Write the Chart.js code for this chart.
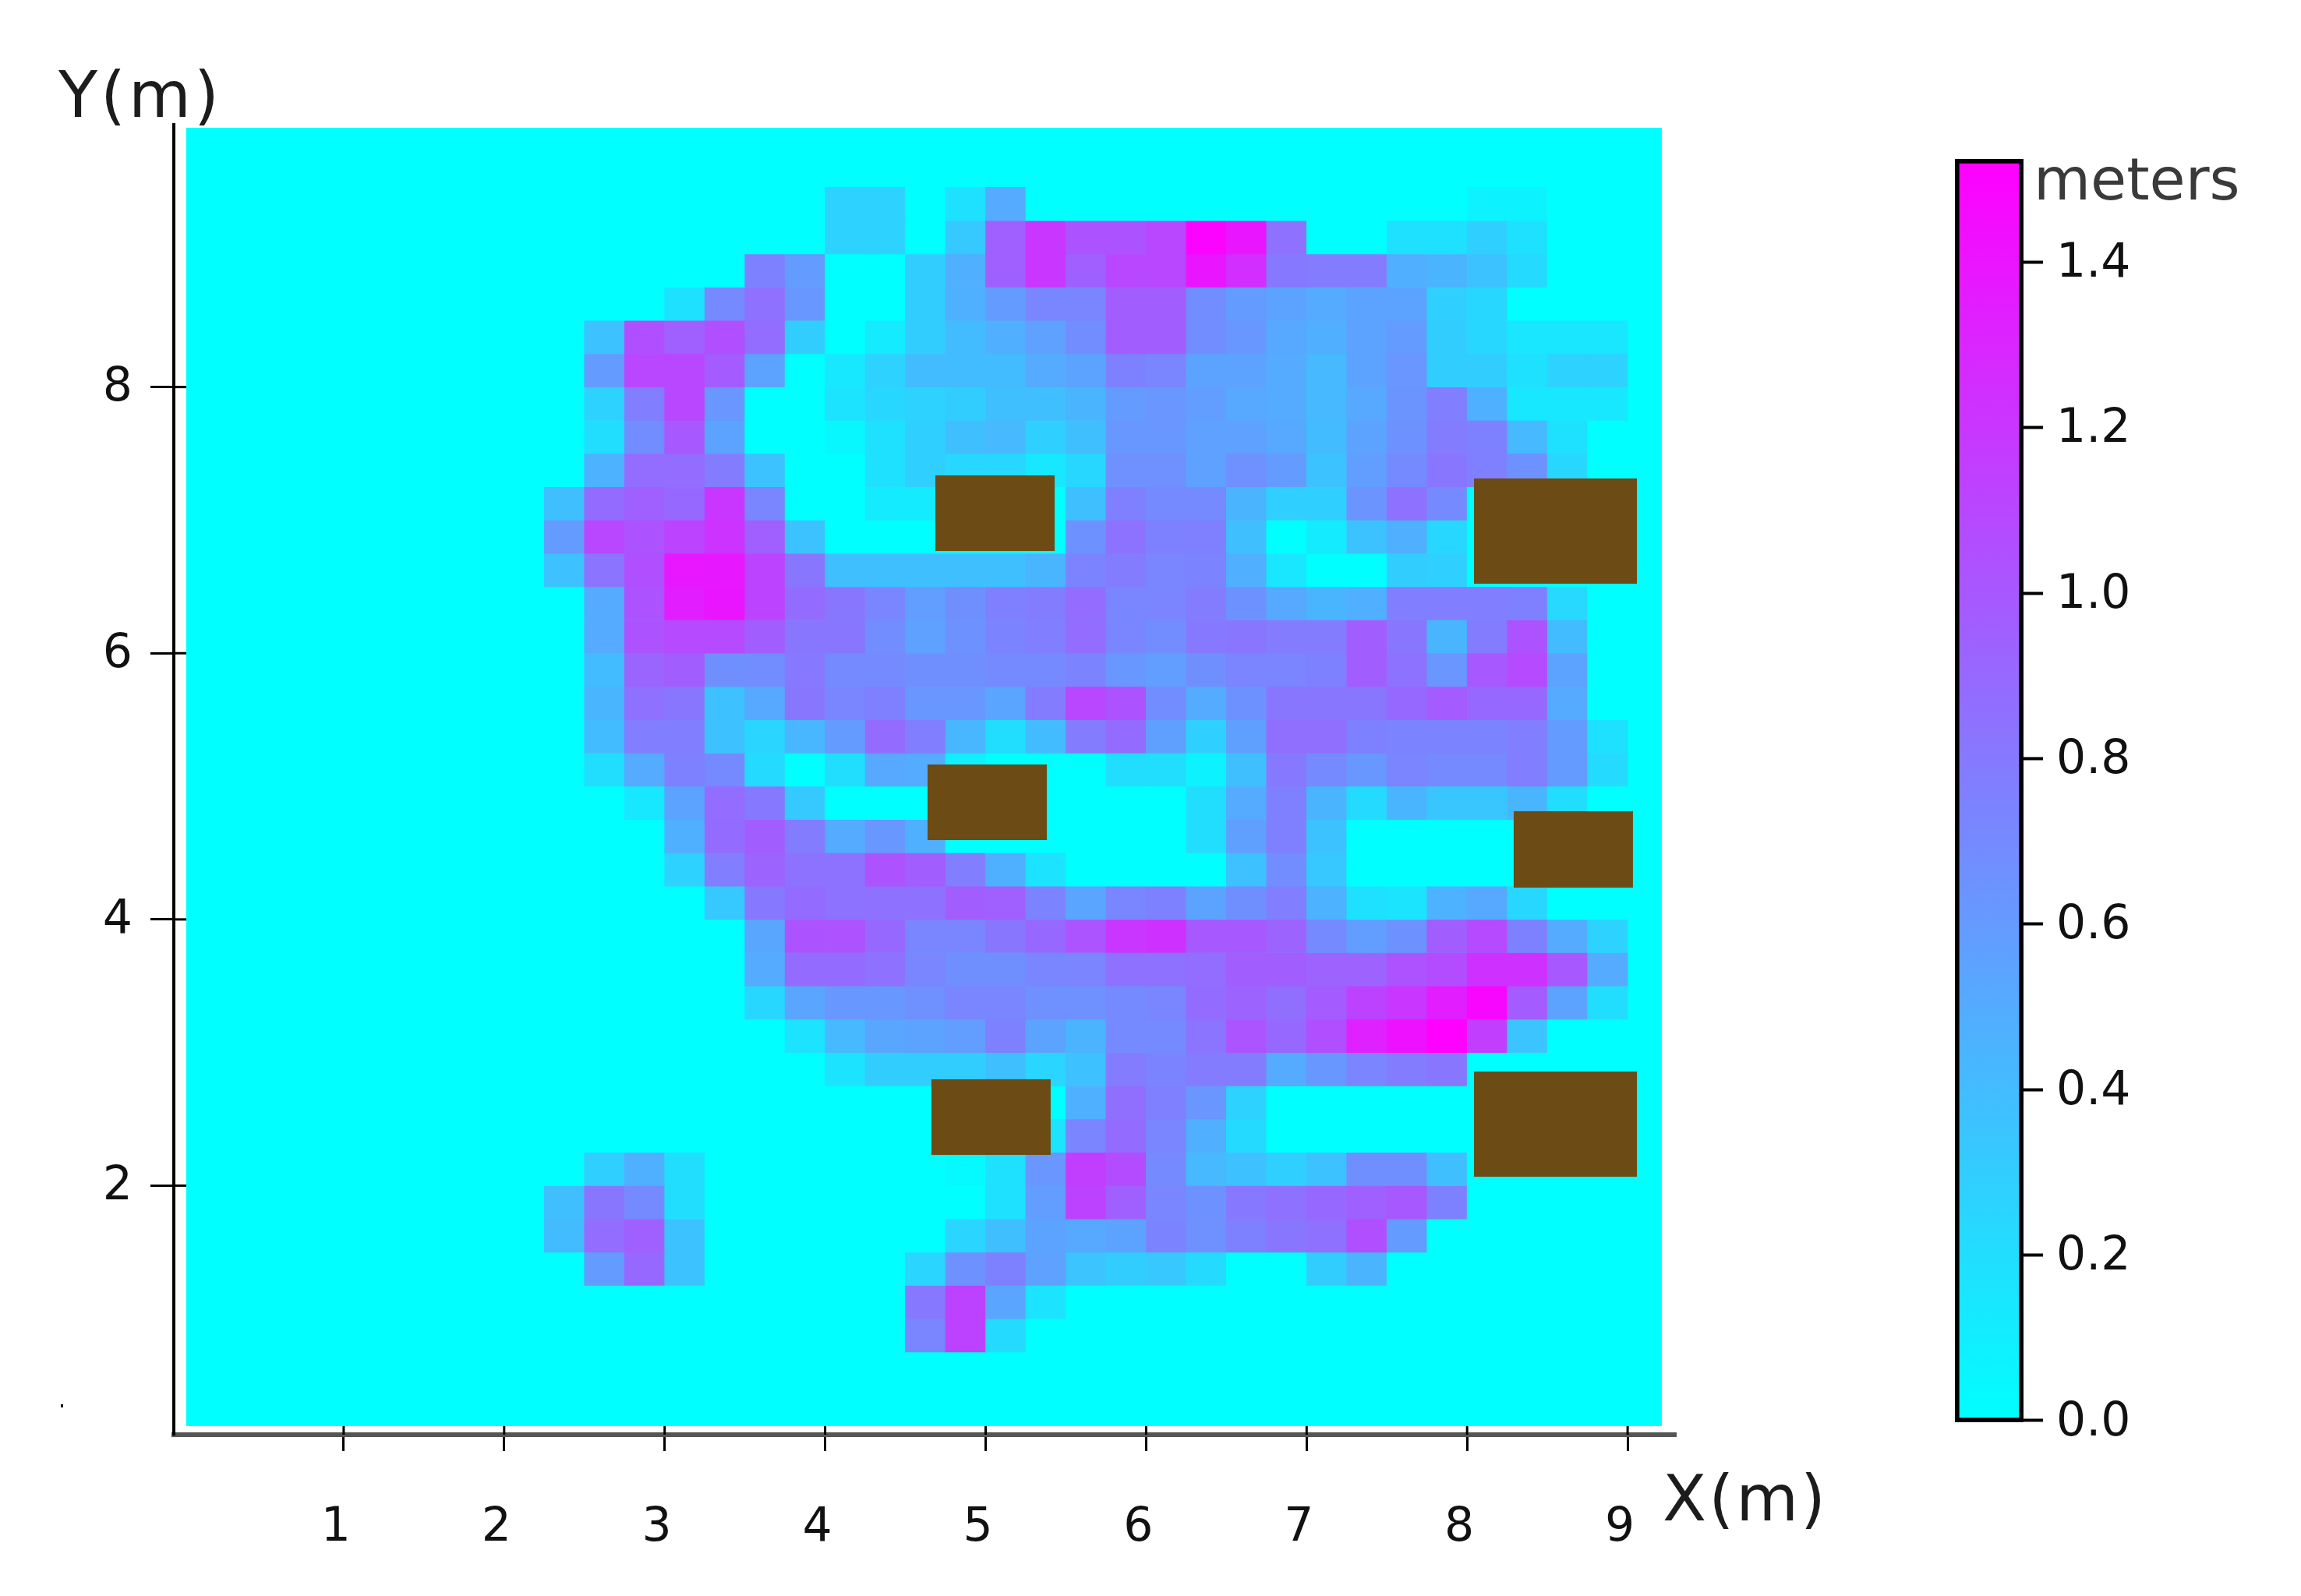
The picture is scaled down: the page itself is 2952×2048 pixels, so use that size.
<!DOCTYPE html>
<html>
<head>
<meta charset="utf-8">
<script src="https://cdn.jsdelivr.net/npm/chart.js@4/dist/chart.umd.min.js"></script>
<style>
html,body{margin:0;padding:0;background:#fff;width:2952px;height:2048px;overflow:hidden}
canvas{position:absolute}
.t{position:absolute;font-family:"DejaVu Sans";line-height:1;white-space:nowrap;color:#1c1c1c}
</style>
</head>
<body>
<canvas id="map" width="2952" height="2048" style="left:0;top:0"></canvas>
<canvas id="bar" width="552" height="1800" style="left:2400px;top:150px"></canvas>
<div class="t" style="left:75px;top:81px;font-size:82px;letter-spacing:4px">Y(m)</div>
<div class="t" style="left:2133px;top:1882px;font-size:82px;letter-spacing:3px">X(m)</div>
<div class="t" style="left:2609px;top:193px;font-size:75px;color:#3a3a3a">meters</div>
<div style="position:absolute;left:78px;top:1802px;width:3px;height:4px;background:#000"></div>
<script>
// Cell values in metres. Each row covers X = 2.25 .. 9.0 in 0.25 m columns; the number is the row's lower Y / 0.25.
const row37=[0,0,0,0,0,0,0,.27,.27,0,.18,.5,0,0,0,0,0,0,0,0,0,0,0,.08,.08,0,0];
const row36=[0,0,0,0,0,0,0,.27,.27,0,.32,.95,1.2,1.03,1.03,1.1,1.5,1.4,.85,0,0,.18,.18,.28,.18,0,0];
const row35=[0,0,0,0,0,.75,.6,0,0,.3,.48,.95,1.2,.95,1.1,1.1,1.4,1.25,.8,.78,.78,.48,.45,.36,.22,0,0];
const row34=[0,0,0,.18,.7,.85,.62,0,0,.3,.47,.6,.72,.72,.97,.97,.68,.6,.55,.5,.55,.55,.28,.24,0,0,0];
const row33=[0,.36,1.05,.95,1.05,.87,.3,0,.12,.3,.4,.48,.56,.68,.97,.97,.68,.62,.52,.48,.55,.6,.3,.24,.15,.15,.15];
const row32=[0,.6,1.1,1.1,.98,.55,0,.14,.27,.4,.4,.4,.5,.55,.75,.72,.55,.55,.5,.42,.55,.63,.3,.3,.18,.27,.27];
const row31=[0,.27,.77,1.1,.63,0,0,.17,.24,.27,.3,.38,.38,.45,.6,.63,.58,.52,.5,.42,.52,.64,.77,.47,.14,.14,.14];
const row30=[0,.2,.68,1.0,.55,0,0,.05,.18,.28,.38,.42,.28,.38,.62,.62,.56,.56,.52,.4,.55,.65,.78,.75,.42,.18,0];
const row29=[0,.46,.87,.87,.78,.36,0,0,.18,.28,.24,.24,.14,.24,.66,.66,.56,.66,.6,.36,.58,.7,.82,.76,.65,.24,0];
const row28=[.38,.88,.95,.9,1.2,.72,0,0,.12,.12,0,0,0,.38,.76,.7,.7,.45,.28,.28,.64,.85,.7,0,0,0,0];
const row27=[.6,1.1,1.03,1.12,1.22,.95,.36,0,0,0,0,0,0,.65,.84,.75,.76,.38,0,.12,.36,.48,.24,0,0,0,0];
const row26=[.37,.83,1.05,1.38,1.38,1.12,.82,.38,.38,.38,.38,.38,.44,.74,.78,.72,.74,.48,.15,0,0,.3,.28,0,0,0,0];
const row25=[0,.5,1.03,1.35,1.4,1.12,.88,.82,.72,.58,.67,.76,.78,.87,.72,.73,.78,.65,.52,.44,.48,.77,.77,.77,.76,.23,0];
const row24=[0,.5,1.03,1.08,1.08,.97,.82,.82,.68,.56,.65,.74,.77,.87,.72,.68,.8,.82,.78,.78,.97,.82,.44,.78,1.03,.4,0];
const row23=[0,.4,.92,.97,.67,.68,.8,.7,.7,.67,.67,.7,.7,.74,.62,.58,.67,.73,.73,.75,.97,.84,.63,1.0,1.08,.55,0];
const row22=[0,.44,.85,.82,.37,.52,.82,.72,.76,.62,.62,.54,.78,1.1,1.03,.68,.5,.65,.82,.82,.82,.9,.98,.9,.9,.5,0];
const row21=[0,.4,.77,.77,.37,.25,.43,.6,.88,.77,.43,.2,.4,.78,.88,.57,.28,.57,.86,.86,.75,.74,.74,.74,.77,.6,.18];
const row20=[0,.2,.5,.75,.7,.22,0,.2,.52,.5,.1,0,0,0,.2,.2,.08,.38,.8,.7,.62,.73,.7,.7,.77,.6,.22];
const row19=[0,0,.14,.55,.87,.8,.32,0,0,0,0,0,0,0,0,0,.2,.5,.76,.45,.22,.44,.34,.34,.44,.2,0];
const row18=[0,0,0,.47,.88,.97,.78,.5,.62,.47,0,0,0,0,0,0,.2,.57,.76,.36,0,0,0,0,0,0,0];
const row17=[0,0,0,.27,.77,.93,.84,.84,1.03,.97,.77,.47,.17,0,0,0,0,.37,.68,.33,0,0,0,0,0,0,0];
const row16=[0,0,0,0,.32,.8,.88,.84,.85,.85,.97,.95,.74,.54,.72,.75,.55,.67,.77,.46,.18,.16,.46,.52,.24,0,0];
const row15=[0,0,0,0,0,.53,1.03,1.03,.9,.72,.72,.82,.9,1.02,1.2,1.23,1.0,1.0,.93,.7,.58,.65,.97,1.08,.75,.5,.27];
const row14=[0,0,0,0,0,.5,.88,.88,.85,.72,.67,.67,.72,.73,.85,.85,.87,.97,.97,.93,.93,1.03,1.07,1.23,1.23,1.0,.5];
const row13=[0,0,0,0,0,.24,.54,.62,.62,.66,.72,.72,.66,.66,.7,.72,.88,.93,.86,.98,1.13,1.2,1.35,1.48,.98,.55,.2];
const row12=[0,0,0,0,0,0,.17,.42,.53,.55,.58,.75,.55,.45,.7,.7,.83,1.02,.9,1.05,1.33,1.42,1.52,1.15,.35,0,0];
const row11=[0,0,0,0,0,0,0,.17,.3,.3,.3,.38,.25,.37,.78,.74,.78,.78,.5,.62,.73,.78,.82,0,0,0,0];
const row10=[0,0,0,0,0,0,0,0,0,0,0,0,0,.47,.86,.76,.63,.27,0,0,0,0,0,0,0,0,0];
const row9=[0,0,0,0,0,0,0,0,0,0,0,0,.17,.73,.88,.72,.48,.22,0,0,0,0,0,0,0,0,0];
const row8=[0,.28,.47,.2,0,0,0,0,0,0,.03,.18,.63,1.15,1.07,.7,.42,.37,.28,.36,.67,.67,.38,0,0,0,0];
const row7=[.38,.82,.7,.2,0,0,0,0,0,0,0,.18,.58,1.13,.95,.72,.65,.8,.85,.9,.95,1.0,.75,0,0,0,0];
const row6=[.4,.87,.95,.36,0,0,0,0,0,0,.25,.38,.55,.52,.55,.74,.66,.75,.82,.85,1.05,.6,0,0,0,0,0];
const row5=[0,.6,.9,.36,0,0,0,0,0,.25,.65,.75,.56,.35,.3,.33,.22,0,0,.3,.45,0,0,0,0,0,0];
const row4=[0,0,0,0,0,0,0,0,0,.8,1.13,.54,.17,0,0,0,0,0,0,0,0,0,0,0,0,0,0];
const row3=[0,0,0,0,0,0,0,0,0,.72,1.13,.22,0,0,0,0,0,0,0,0,0,0,0,0,0,0,0];
const cellRows=[row37,row36,row35,row34,row33,row32,row31,row30,row29,row28,row27,row26,row25,row24,row23,row22,row21,row20,row19,row18,row17,row16,row15,row14,row13,row12,row11,row10,row9,row8,row7,row6,row5,row4,row3];
const CELL=0.25, FIRST_COL_X=2.25, TOP_ROW_Y=9.25, VALUE_MAX=1.523;

// Axis ticks and the measured extent of the mapped field
const xTicks=[1,2,3,4,5,6,7,8,9];
const yTicks=[2,4,6,8];
const colorbarTicks=[0,0.2,0.4,0.6,0.8,1.0,1.2,1.4];
const fieldX=[0.0194,9.213];
const fieldY=[0.193,9.947];

// Brown obstacles, [xMin,xMax,yMin,yMax] in metres
const obstacleA=[4.687,5.43,6.768,7.336];
const obstacleB=[8.043,9.058,6.522,7.313];
const obstacleC=[4.638,5.381,4.596,5.164];
const obstacleD=[8.29,9.033,4.239,4.813];
const obstacleE=[8.043,9.058,2.067,2.857];
const obstacleF=[4.662,5.405,2.231,2.799];
const obstacles=[obstacleA,obstacleB,obstacleC,obstacleD,obstacleE,obstacleF];

function cool(v){
  const r=Math.max(0,Math.min(255,Math.round(255*v/VALUE_MAX)));
  return 'rgb('+r+','+(255-r)+',255)';
}

const datasets=cellRows.map((vals,i)=>{
  const y0=TOP_ROW_Y-i*CELL;
  return {
    data:vals.map((v,j)=>({x:FIRST_COL_X+j*CELL+CELL/2,y:[y0,y0+CELL]})),
    backgroundColor:vals.map(cool),
    borderWidth:0,
    barPercentage:1,
    categoryPercentage:1,
    grouped:false
  };
});

function rectOf(chart,x0,x1,y0,y1){
  const sx=chart.scales.x, sy=chart.scales.y;
  const l=sx.getPixelForValue(x0), r=sx.getPixelForValue(x1);
  const t=sy.getPixelForValue(y1), b=sy.getPixelForValue(y0);
  return [l,t,r-l,b-t];
}
const mapPlugin={
  id:'mapLayers',
  beforeDatasetsDraw(chart){
    const c=chart.ctx;
    c.save();
    c.fillStyle='#00ffff';
    c.fillRect(...rectOf(chart,fieldX[0],fieldX[1],fieldY[0],fieldY[1]));
    c.restore();
  },
  afterDatasetsDraw(chart){
    const c=chart.ctx;
    c.save();
    c.fillStyle='#6c4b14';
    obstacles.forEach(o=>c.fillRect(...rectOf(chart,o[0],o[1],o[2],o[3])));
    c.restore();
  },
  afterDraw(chart){
    // tick marks carry on a little inside the axes, up to the field
    const c=chart.ctx,sx=chart.scales.x,sy=chart.scales.y;
    c.save();
    c.strokeStyle='#000';
    c.lineWidth=3;
    const bottom=sy.getPixelForValue(sy.min), top=sy.getPixelForValue(fieldY[0]);
    xTicks.forEach(v=>{const p=sx.getPixelForValue(v);c.beginPath();c.moveTo(p,top);c.lineTo(p,bottom);c.stroke();});
    const left=sx.getPixelForValue(sx.min), right=sx.getPixelForValue(fieldX[0]);
    yTicks.forEach(v=>{const p=sy.getPixelForValue(v);c.beginPath();c.moveTo(left,p);c.lineTo(right,p);c.stroke();});
    c.restore();
  }
};

const tickFont={family:'"DejaVu Sans"',size:60};
new Chart(document.getElementById('map'),{
  type:'bar',
  data:{datasets},
  plugins:[mapPlugin],
  options:{
    responsive:false,
    animation:false,
    parsing:true,
    layout:{padding:{left:0,top:160,right:802,bottom:0}},
    plugins:{legend:{display:false},tooltip:{enabled:false},title:{display:false}},
    scales:{
      x:{
        type:'linear',position:'bottom',offset:false,
        min:-0.0583,max:9.3006,
        afterBuildTicks(s){s.ticks=xTicks.map(v=>({value:v}));},
        afterFit(s){s.height=207;},
        grid:{offset:false,drawOnChartArea:false,drawTicks:true,tickLength:21,tickWidth:3,tickColor:'#000'},
        border:{display:true,color:'#555',width:6},
        ticks:{font:tickFont,color:'#111',padding:63,labelOffset:-10,maxRotation:0,autoSkip:false,callback:v=>String(v)}
      },
      y:{
        type:'linear',position:'left',
        min:0.1288,max:9.971,
        afterBuildTicks(s){s.ticks=yTicks.map(v=>({value:v}));},
        afterFit(s){s.width=223;},
        grid:{drawOnChartArea:false,drawTicks:true,tickLength:30,tickWidth:3,tickColor:'#000'},
        border:{display:true,color:'#000',width:4},
        ticks:{font:tickFont,color:'#111',padding:23,labelOffset:2,autoSkip:false,callback:v=>String(v)}
      }
    }
  }
});

// Colour bar
const barMin=-0.0019, barMax=1.5247;
new Chart(document.getElementById('bar'),{
  type:'bar',
  data:{
    labels:['meters'],
    datasets:[{
      data:[[barMin,barMax]],
      barPercentage:1,categoryPercentage:1,
      borderColor:'#000',borderWidth:6,borderSkipped:false,
      backgroundColor(ctx){
        const chart=ctx.chart,s=chart.scales.y;
        if(!chart.chartArea||!s) return '#00ffff';
        const g=chart.ctx.createLinearGradient(0,s.getPixelForValue(0),0,s.getPixelForValue(VALUE_MAX));
        g.addColorStop(0,'#00ffff');
        g.addColorStop(1,'#ff00ff');
        return g;
      }
    }]
  },
  options:{
    responsive:false,
    animation:false,
    layout:{padding:{left:108,top:54,right:0,bottom:125}},
    plugins:{legend:{display:false},tooltip:{enabled:false}},
    scales:{
      x:{display:false,type:'category'},
      y:{
        type:'linear',position:'right',min:barMin,max:barMax,
        afterBuildTicks(s){s.ticks=colorbarTicks.map(v=>({value:v}));},
        afterFit(s){s.width=356;},
        grid:{drawOnChartArea:false,drawTicks:true,tickLength:25,tickWidth:4,tickColor:'#000'},
        border:{display:false},
        ticks:{font:tickFont,color:'#111',padding:17,labelOffset:3,autoSkip:false,callback:v=>Number(v).toFixed(1)}
      }
    }
  }
});
</script>
</body>
</html>
